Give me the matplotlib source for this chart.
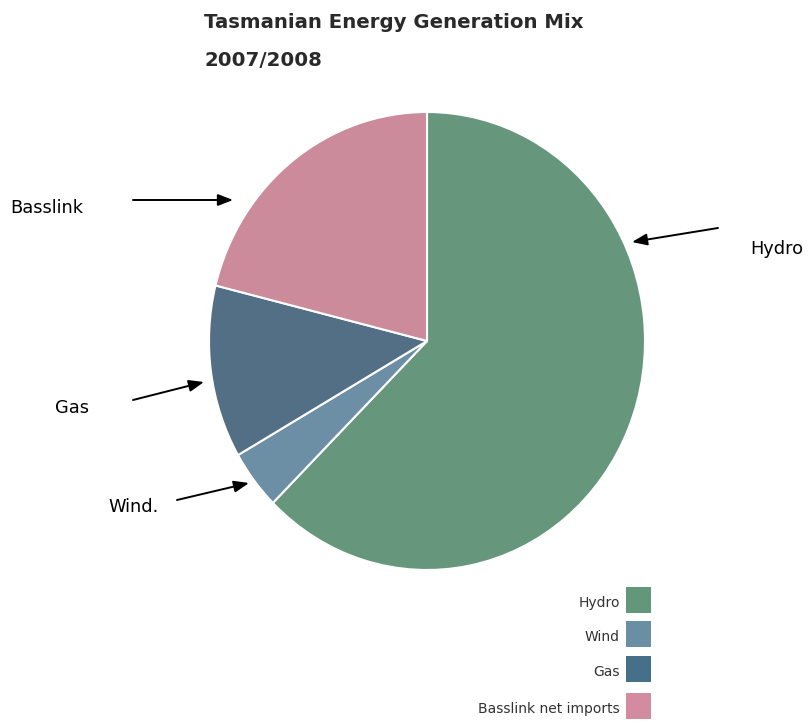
import matplotlib.pyplot as plt
from matplotlib.patches import Rectangle

# Datos
fuentes = ['Hydro', 'Wind', 'Gas', 'Basslink net imports']
porcentajes = [62.5, 4.2, 12.2, 21.1]
colores_pie = ['#66977c', '#6d8fa6', '#536f86', '#cb8b9b']
colores_leyenda = ['#62977b', '#6a8fa5', '#46708a', '#d28b9f']

# Etiquetas con flecha: texto, posicion del texto, punta de la flecha, inicio de la flecha
etiquetas = ['Hydro', 'Basslink', 'Gas', 'Wind.']
pos_texto = [(750, 249), (10, 208), (55, 408), (108, 507)]
inicio_flecha = [(718, 228), (133, 200), (133, 400), (177, 500)]
punta_flecha = [(632, 242), (233, 200), (204, 382), (249, 483)]

W, H = 808, 724
fig = plt.figure(figsize=(W / 100, H / 100), dpi=100)

# Pie (ligeramente ovalado como en el original)
cx, cy, rx, ry = 427, 341, 218, 229
ax = fig.add_axes([(cx - rx) / W, (H - cy - ry) / H, 2 * rx / W, 2 * ry / H])
ax.pie(porcentajes, colors=colores_pie, startangle=90, counterclock=False,
       wedgeprops=dict(edgecolor='white', linewidth=1.5))
ax.set_aspect('auto')
ax.set_xlim(-1, 1)
ax.set_ylim(-1, 1)
ax.axis('off')

# Capa superior en coordenadas de pixel
ov = fig.add_axes([0, 0, 1, 1], zorder=5)
ov.set_xlim(0, W)
ov.set_ylim(H, 0)
ov.axis('off')
ov.patch.set_alpha(0)

ov.text(204, 22, 'Tasmanian Energy Generation Mix', fontsize=14.2, fontweight='bold',
        color='#2a2a2a', va='center', ha='left')
ov.text(204, 60, '2007/2008', fontsize=14.2, fontweight='bold',
        color='#2a2a2a', va='center', ha='left')

for txt, pt, a0, a1 in zip(etiquetas, pos_texto, inicio_flecha, punta_flecha):
    ov.text(pt[0], pt[1], txt, fontsize=12.8, color='black', va='center', ha='left')
    ov.annotate('', xy=a1, xytext=a0,
                arrowprops=dict(arrowstyle='-|>,head_length=0.9,head_width=0.35',
                                color='black', lw=1.4, shrinkA=0, shrinkB=0))

# Leyenda manual
ley_y = [600, 634, 669, 706]
for nombre, col, y in zip(fuentes, colores_leyenda, ley_y):
    ov.add_patch(Rectangle((626, y - 13), 25, 26, facecolor=col, edgecolor='none'))
    ov.text(620, y + 3, nombre, fontsize=10, color='#333333', va='center', ha='right')

fig.savefig('out.png', dpi=100, facecolor='white')
